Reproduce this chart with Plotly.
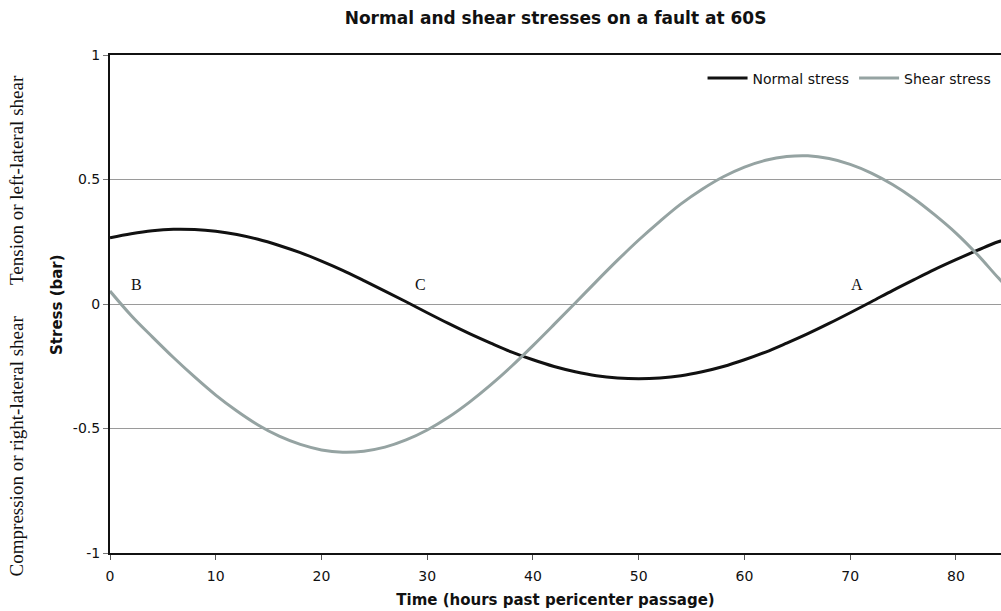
import plotly.graph_objects as go

# Hours past pericenter passage
hours = [0, 2, 4, 6, 8, 10, 12, 14, 16, 18, 20, 22, 24, 26, 28, 30, 32, 34, 36, 38, 40, 42,
         44, 46, 48, 50, 52, 54, 56, 58, 60, 62, 64, 66, 68, 70, 72, 74, 76, 78, 80, 82, 84, 86]

# Stress values in bar
normal_stress = [0.266, 0.282, 0.294, 0.300, 0.299, 0.292, 0.279, 0.260, 0.235, 0.206, 0.172,
                 0.135, 0.094, 0.052, 0.009, -0.035, -0.078, -0.119, -0.157, -0.193, -0.224,
                 -0.251, -0.272, -0.288, -0.297, -0.300, -0.297, -0.288, -0.272, -0.251, -0.224,
                 -0.193, -0.157, -0.119, -0.078, -0.035, 0.009, 0.054, 0.097, 0.139, 0.178,
                 0.215, 0.250, 0.275]
shear_stress = [0.052, -0.046, -0.132, -0.215, -0.293, -0.366, -0.430, -0.486, -0.531, -0.564,
                -0.586, -0.595, -0.591, -0.575, -0.546, -0.506, -0.455, -0.394, -0.325, -0.249,
                -0.167, -0.082, 0.004, 0.091, 0.176, 0.257, 0.332, 0.402, 0.461, 0.511, 0.550,
                0.577, 0.592, 0.595, 0.584, 0.561, 0.526, 0.480, 0.424, 0.358, 0.285, 0.200,
                0.105, 0.015]

# Point labels
point_names = ["B", "C", "A"]
point_x = [2.5, 29.4, 70.6]
point_y = [0.08, 0.08, 0.08]

x_ticks = [0, 10, 20, 30, 40, 50, 60, 70, 80]
y_ticks = [-1, -0.5, 0, 0.5, 1]
y_tick_text = ["-1", "-0.5", "0", "0.5", "1"]

SANS = "DejaVu Sans"
SERIF = "Liberation Serif"
INK = "#111111"

fig = go.Figure()
fig.add_trace(go.Scatter(x=hours, y=normal_stress, mode="lines", name="Normal stress",
                         line=dict(color=INK, width=3, shape="spline")))
fig.add_trace(go.Scatter(x=hours, y=shear_stress, mode="lines", name="Shear stress",
                         line=dict(color="#95a3a2", width=3, shape="spline")))

for name, px, py in zip(point_names, point_x, point_y):
    fig.add_annotation(x=px, y=py, xref="x", yref="y", text=name, showarrow=False,
                       font=dict(family=SERIF, size=16, color=INK))

# Y axis title and the two side captions
fig.add_annotation(x=-0.0595, y=0.5, xref="paper", yref="paper", text="<b>Stress (bar)</b>",
                   textangle=-90, showarrow=False, xanchor="center", yanchor="middle",
                   font=dict(family=SANS, size=15, color=INK))
fig.add_annotation(x=-0.105, y=0.5, xref="paper", yref="y",
                   text="Tension or left-lateral shear", textangle=-90, showarrow=False,
                   xanchor="center", yanchor="middle",
                   font=dict(family=SERIF, size=19, color=INK))
fig.add_annotation(x=-0.105, y=-0.57, xref="paper", yref="y",
                   text="Compression or right-lateral shear", textangle=-90, showarrow=False,
                   xanchor="center", yanchor="middle",
                   font=dict(family=SERIF, size=19, color=INK))

fig.update_layout(
    width=1001, height=611,
    margin=dict(l=110, r=0, t=55, b=58),
    paper_bgcolor="white", plot_bgcolor="white",
    title=dict(text="<b>Normal and shear stresses on a fault at 60S</b>",
               x=0.555, xanchor="center", y=0.97, yanchor="middle",
               font=dict(family=SANS, size=17, color=INK)),
    legend=dict(orientation="h", x=0.995, xanchor="right", y=0.985, yanchor="top",
                bgcolor="rgba(255,255,255,0)", font=dict(family=SANS, size=14, color=INK),
                itemwidth=40, tracegroupgap=0),
    showlegend=True,
    xaxis=dict(range=[0, 84.26], tickvals=x_ticks, showgrid=False, zeroline=False,
               showline=True, linecolor=INK, linewidth=2, mirror=True,
               ticks="outside", ticklen=5, tickcolor="#555555", ticklabelstandoff=4,
               tickfont=dict(family=SANS, size=14, color=INK),
               title=dict(text="<b>Time (hours past pericenter passage)</b>", standoff=12,
                          font=dict(family=SANS, size=15, color=INK))),
    yaxis=dict(range=[-1, 1], tickvals=y_ticks, ticktext=y_tick_text, showgrid=True,
               gridcolor="#9a9a9a", gridwidth=1, zeroline=False,
               showline=True, linecolor=INK, linewidth=2,
               ticks="outside", ticklen=5, tickcolor="#777777",
               tickfont=dict(family=SANS, size=14, color=INK)),
)

fig.write_html("out.html")
